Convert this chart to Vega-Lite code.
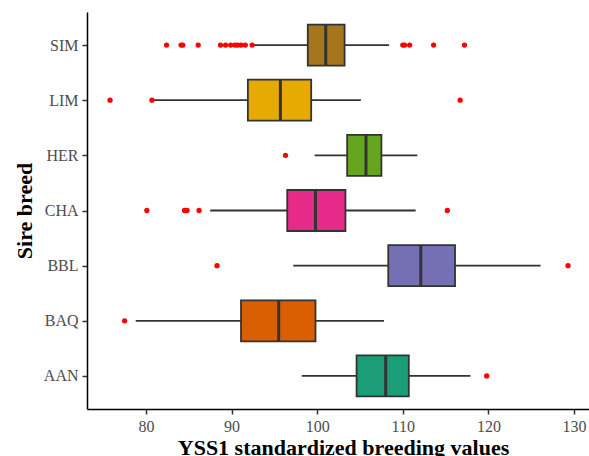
{
  "$schema": "https://vega.github.io/schema/vega-lite/v6.json",
  "width": 502,
  "height": 397,
  "autosize": {"type": "none"},
  "padding": {"left": 87, "top": 12, "right": 0, "bottom": 47},
  "background": "white",
  "config": {
    "view": {"stroke": null},
    "font": "Liberation Serif",
    "axis": {
      "grid": false,
      "domainColor": "#000000",
      "domainWidth": 1.5,
      "tickColor": "#333333",
      "tickWidth": 1.5,
      "tickSize": 5,
      "labelFont": "Liberation Serif",
      "labelFontSize": 16,
      "labelColor": "#4D4D4D",
      "labelPadding": 4,
      "titleFont": "Liberation Serif",
      "titleFontSize": 22,
      "titleFontWeight": "bold",
      "titleColor": "#000000"
    }
  },
  "datasets": {
    "boxes": [
      {"breed": "SIM", "lower": 92.6, "q1": 98.9, "median": 101.0, "q3": 103.2, "upper": 108.4},
      {"breed": "LIM", "lower": 80.9, "q1": 91.9, "median": 95.7, "q3": 99.3, "upper": 105.1},
      {"breed": "HER", "lower": 99.7, "q1": 103.5, "median": 105.7, "q3": 107.5, "upper": 111.7},
      {"breed": "CHA", "lower": 87.5, "q1": 96.5, "median": 99.8, "q3": 103.3, "upper": 111.5},
      {"breed": "BBL", "lower": 97.2, "q1": 108.3, "median": 112.1, "q3": 116.1, "upper": 126.1},
      {"breed": "BAQ", "lower": 78.8, "q1": 91.1, "median": 95.5, "q3": 99.8, "upper": 107.8},
      {"breed": "AAN", "lower": 98.2, "q1": 104.6, "median": 108.0, "q3": 110.7, "upper": 117.9}
    ],
    "outliers": [
      {"breed": "SIM", "value": 82.4}, {"breed": "SIM", "value": 84.1}, {"breed": "SIM", "value": 84.3},
      {"breed": "SIM", "value": 86.1}, {"breed": "SIM", "value": 88.7}, {"breed": "SIM", "value": 89.3},
      {"breed": "SIM", "value": 89.9}, {"breed": "SIM", "value": 90.4}, {"breed": "SIM", "value": 90.7},
      {"breed": "SIM", "value": 91.1}, {"breed": "SIM", "value": 91.6}, {"breed": "SIM", "value": 92.4},
      {"breed": "SIM", "value": 110.0}, {"breed": "SIM", "value": 110.2}, {"breed": "SIM", "value": 110.8},
      {"breed": "SIM", "value": 113.6}, {"breed": "SIM", "value": 117.2},
      {"breed": "LIM", "value": 75.8}, {"breed": "LIM", "value": 80.7}, {"breed": "LIM", "value": 116.7},
      {"breed": "HER", "value": 96.3},
      {"breed": "CHA", "value": 80.1}, {"breed": "CHA", "value": 84.5}, {"breed": "CHA", "value": 84.8},
      {"breed": "CHA", "value": 86.2}, {"breed": "CHA", "value": 115.2},
      {"breed": "BBL", "value": 88.3}, {"breed": "BBL", "value": 129.3},
      {"breed": "BAQ", "value": 77.5},
      {"breed": "AAN", "value": 119.8}
    ]
  },
  "encoding": {
    "y": {
      "field": "breed",
      "type": "nominal",
      "sort": ["SIM", "LIM", "HER", "CHA", "BBL", "BAQ", "AAN"],
      "scale": {"type": "point", "padding": 0.6},
      "axis": {"title": "Sire breed", "titleX": -56, "titleBaseline": "alphabetic"}
    }
  },
  "layer": [
    {
      "data": {"name": "boxes"},
      "mark": {"type": "rule", "color": "#333333", "strokeWidth": 1.8},
      "encoding": {
        "x": {
          "field": "lower",
          "type": "quantitative",
          "scale": {"domain": [73.11, 131.75], "nice": false, "zero": false},
          "axis": {
            "title": "YSS1 standardized breeding values",
            "values": [80, 90, 100, 110, 120, 130],
            "titleY": 45,
            "titleX": 256,
            "titleBaseline": "alphabetic"
          }
        },
        "x2": {"field": "upper"}
      }
    },
    {
      "data": {"name": "boxes"},
      "mark": {"type": "bar", "height": 41, "stroke": "#333333", "strokeWidth": 1.8},
      "encoding": {
        "x": {"field": "q1", "type": "quantitative"},
        "x2": {"field": "q3"},
        "fill": {
          "field": "breed",
          "type": "nominal",
          "scale": {
            "domain": ["AAN", "BAQ", "BBL", "CHA", "HER", "LIM", "SIM"],
            "range": ["#1B9E77", "#D95F02", "#7570B3", "#E7298A", "#66A61E", "#E6AB02", "#A6761D"]
          },
          "legend": null
        }
      }
    },
    {
      "data": {"name": "boxes"},
      "mark": {"type": "tick", "color": "#333333", "thickness": 3, "size": 41, "opacity": 1},
      "encoding": {
        "x": {"field": "median", "type": "quantitative"}
      }
    },
    {
      "data": {"name": "outliers"},
      "mark": {"type": "circle", "color": "#FF0000", "size": 28, "opacity": 1},
      "encoding": {
        "x": {"field": "value", "type": "quantitative"}
      }
    }
  ]
}
